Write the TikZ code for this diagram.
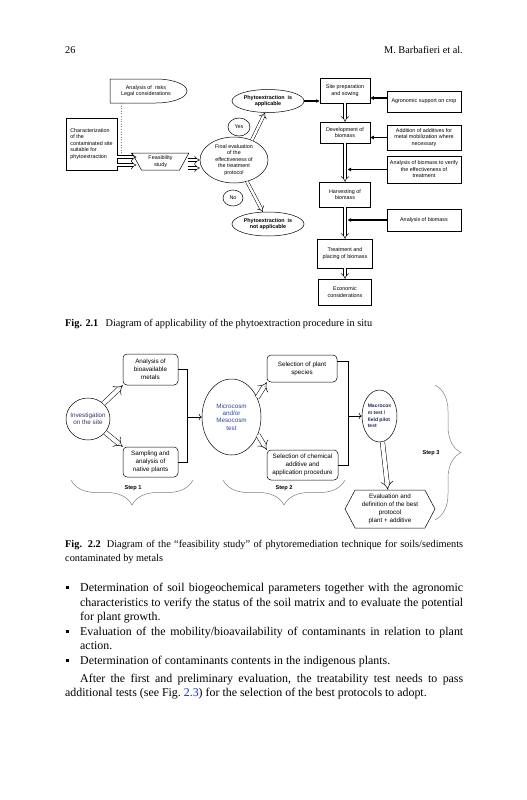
\documentclass[tikz,border=0pt]{standalone}
\usepackage{fontspec}
\setmainfont{Liberation Serif}
\setsansfont{Liberation Sans}
\usetikzlibrary{shapes, arrows.meta, decorations.pathreplacing}
\definecolor{invtext}{RGB}{62,44,110}
\definecolor{microtext}{RGB}{40,72,150}
\definecolor{macrotext}{RGB}{28,38,92}
\definecolor{figlink}{RGB}{20,40,230}

\begin{document}
\begin{tikzpicture}[x=1pt, y=-1pt]

\tikzstyle{box} = [rectangle, draw, line width=0.5pt, align=center, inner sep=0pt, font=\sffamily\fontsize{5.4}{6.5}\selectfont]
\tikzstyle{oval} = [ellipse, draw, line width=0.5pt, align=center, inner sep=-2pt, font=\sffamily\fontsize{5.4}{6.5}\selectfont]
\tikzstyle{boldoval} = [oval, font=\sffamily\bfseries\fontsize{5.4}{6.5}\selectfont]
\tikzstyle{rbox} = [rectangle, draw, line width=0.5pt, rounded corners=4pt, align=center, inner sep=0pt, font=\sffamily\fontsize{6.3}{7.8}\selectfont]
\tikzstyle{bigoval} = [ellipse, draw, line width=0.5pt, align=center, inner sep=-3pt, font=\sffamily\fontsize{6.3}{7.4}\selectfont]
\tikzstyle{hollow} = [double, line width=0.5pt, double distance=2.4pt, -{Implies}]
\tikzstyle{bighollow} = [double, line width=0.5pt, double distance=4pt, -{Implies}]
\tikzstyle{feed} = [line width=1.2pt, -{Latex[length=3.5pt, width=4pt]}]
\tikzstyle{link} = [line width=0.6pt, ->]
\tikzstyle{steplabel} = [font=\sffamily\bfseries\fontsize{5.6}{6.5}\selectfont]
\tikzstyle{stepbrace} = [decorate, gray, line width=0.5pt]

\useasboundingbox (0,0) rectangle (527,800);

\node (pageno) [anchor=base west, inner sep=0pt, font=\fontsize{10.3}{12}\selectfont] at (65,54) {26};
\node (runhead) [anchor=base east, inner sep=0pt, font=\fontsize{10.3}{12}\selectfont] at (463,54) {M. Barbafieri et al.};

\node (risks) [align=center, inner sep=0pt, font=\sffamily\fontsize{5.4}{6.5}\selectfont] at (146,91) {Analysis of\ \ risks\\Legal considerations};
\draw [line width=0.5pt] (110,79) -- (156,79) arc[start angle=-90, end angle=90, x radius=31, y radius=12] -- (110,103) -- cycle;

\node (char) [box, align=left, minimum width=51pt, minimum height=52pt] at (91.5,144) {Characterization\\of the\\contaminated site\\suitable for\\phytoextraction};
\node (feas) [box, trapezium, shape border rotate=180, trapezium left angle=63, trapezium right angle=63, trapezium stretches=true, minimum width=57pt, minimum height=17pt] at (160.5,161.5) {Feasibility\\study};
\node (final) [oval, minimum width=68pt, minimum height=46pt] at (234,160) {Final evaluation\\of the\\effectiveness of\\the treatment\\protocol};
\node (yes) [oval, minimum width=22pt, minimum height=18pt] at (239,127) {Yes};
\node (no) [oval, minimum width=20pt, minimum height=16pt] at (233,198) {No};
\node (applic) [boldoval, minimum width=72pt, minimum height=23pt] at (268,101) {Phytoextraction\ \ is\\applicable};
\node (notapp) [boldoval, minimum width=72pt, minimum height=24pt] at (268,224) {Phytoextraction\ \ is\\not applicable};

\node (site) [box, minimum width=50pt, minimum height=25pt] at (345,90.5) {Site preparation\\and sowing};
\node (dev) [box, minimum width=50pt, minimum height=21pt] at (345,132.5) {Development of\\biomass};
\node (harv) [box, minimum width=51pt, minimum height=25pt] at (345,194.5) {Harvesting of\\biomass};
\node (treat) [box, minimum width=55pt, minimum height=29pt] at (345,253.5) {Treatment and\\placing of biomass};
\node (econ) [box, minimum width=53pt, minimum height=26pt] at (345,292) {Economic\\considerations};
\node (agro) [box, minimum width=74pt, minimum height=21pt] at (424,101.5) {Agronomic support on crop};
\node (addit) [box, minimum width=74pt, minimum height=25pt] at (424,137.5) {Addition of additives for\\metal mobilization where\\necessary};
\node (verify) [box, minimum width=74pt, minimum height=27pt] at (424,169.5) {Analysis of biomass to verify\\the effectiveness of\\treatment};
\node (bioan) [box, minimum width=74pt, minimum height=22pt] at (424,220) {Analysis of biomass};

\coordinate (riskfoot) at (121,103);
\coordinate (charout1) at ([yshift=-13pt]char.east);
\coordinate (charout2) at ([yshift=-21pt]char.east);
\coordinate (feasout1) at ([xshift=3pt, yshift=1.5pt]feas.east);
\coordinate (feasout2) at ([xshift=3pt, yshift=-6.5pt]feas.east);
\coordinate (agroin) at ([yshift=3.5pt]agro.west);

\draw [dotted, gray, line width=0.6pt] (riskfoot) -- (riskfoot |- charout1);
\draw [hollow] (charout1) -- (charout1 -| feas.west);
\draw [hollow] (charout2) -- (charout2 -| feas.west);
\draw [hollow] (feasout1) -- (feasout1 -| final.west);
\draw [hollow] (feasout2) -- (feasout2 -| final.west);
\draw [hollow] (final.48) -- (applic.256);
\draw [hollow] (final.-59) -- (notapp.113);
\draw [feed] (applic.east) -- (applic.east -| site.west);
\draw [feed] (agroin) -- (agroin -| site.east);
\draw [feed] (addit.west) -- (addit.west -| dev.east);
\draw [feed, shorten >=2.5pt] (verify.west) -- (verify.west -| dev.south);
\draw [feed, shorten >=2.5pt] (bioan.west) -- (bioan.west -| harv.south);
\draw [hollow] (site) -- (dev);
\draw [hollow] (dev) -- (harv);
\draw [hollow] (harv) -- (treat);
\draw [hollow] (treat) -- (econ);

\node (cap1) [anchor=base west, inner sep=0pt, font=\fontsize{10.3}{12.5}\selectfont] at (65,326.5) {\textbf{Fig. 2.1}\hspace{0.7em}Diagram of applicability of the phytoextraction procedure in situ};

\node (inv) [bigoval, text=invtext, minimum width=44pt, minimum height=42pt] at (88,419) {Investigation\\on the site};
\node (metals) [rbox, minimum width=55pt, minimum height=31pt] at (150.5,369.5) {Analysis of\\bioavailable\\metals};
\node (sampling) [rbox, minimum width=55pt, minimum height=30pt] at (150.5,462) {Sampling and\\analysis of\\native plants};
\node (micro) [bigoval, text=microtext, minimum width=59pt, minimum height=76pt] at (231.5,417) {Microcosm\\and/or\\Mesocosm\\test};
\node (species) [rbox, minimum width=70pt, minimum height=27pt] at (302,368.5) {Selection of plant\\species};
\node (chem) [rbox, minimum width=71pt, minimum height=30pt] at (302.5,465) {Selection of chemical\\additive and\\application procedure};
\node (macro) [bigoval, text=macrotext, align=left, font=\sffamily\bfseries\fontsize{5}{6.6}\selectfont, minimum width=35pt, minimum height=52pt] at (379.5,416) {Macrocos\\m test /\\field pilot\\test};
\node (eval) [signal, signal to=west and east, signal pointer angle=124, draw, line width=0.5pt, align=center, inner sep=0pt, font=\sffamily\fontsize{6.3}{7.8}\selectfont, minimum width=90pt, minimum height=38pt] at (390,509) {Evaluation and\\definition of the best\\protocol\\plant + additive};

\coordinate (join1) at ([xshift=-14pt]micro.west);
\coordinate (join2) at ([xshift=-13pt]macro.west);
\coordinate (speciesout) at ([yshift=7pt]species.east);

\draw [bighollow] (inv.45) -- (metals.south west);
\draw [bighollow] (inv.-38) -- (sampling.north west);
\draw [bighollow] (micro.37) -- (species.south west);
\draw [bighollow] (micro.-34) -- (chem.north west);
\draw [bighollow] (macro) -- (eval);
\draw [line width=0.6pt] (metals.east) -| (join1) |- (sampling.east);
\draw [link] (join1) -- (micro.west);
\draw [line width=0.6pt] (speciesout) -| (join2) |- (chem.east);
\draw [link] (join2) -- (macro.west);

\draw [stepbrace, decoration={brace, mirror, amplitude=25pt}] (71,480) -- (193,480);
\draw [stepbrace, decoration={brace, mirror, amplitude=25pt}] (223,480) -- (345,480);
\draw [stepbrace, decoration={brace, amplitude=26pt}] (435,385) -- (435,520);
\node (step1) [steplabel] at (133,488) {Step 1};
\node (step2) [steplabel] at (284,488) {Step 2};
\node (step3) [steplabel] at (431,453) {Step 3};

\node (cap2) [anchor=north west, inner sep=0pt, text width=398pt, align=justify, font=\fontsize{10.3}{14.5}\selectfont] at (65,540) {\textbf{Fig. 2.2}\hspace{0.6em}Diagram of the ``feasibility study'' of phytoremediation technique for soils/sediments\linebreak contaminated by metals};

\node (body) [anchor=north west, inner sep=0pt, text width=398pt, align=justify, font=\fontsize{11.9}{14.6}\selectfont] at (65,583) {%
\parindent=0pt\leftskip=15pt
\noindent\llap{\rule[2.6pt]{3pt}{3pt}\hspace{11pt}}Determination of soil biogeochemical parameters together with the agronomic\linebreak characteristics to verify the status of the soil matrix and to evaluate the potential\linebreak for plant growth.\par
\noindent\llap{\rule[2.6pt]{3pt}{3pt}\hspace{11pt}}Evaluation of the mobility/bioavailability of contaminants in relation to plant\linebreak action.\par
\noindent\llap{\rule[2.6pt]{3pt}{3pt}\hspace{11pt}}Determination of contaminants contents in the indigenous plants.\par
\vspace{3pt}\leftskip=0pt\parindent=15pt
\indent After the first and preliminary evaluation, the treatability test needs to pass\linebreak additional tests (see Fig.~\textcolor{figlink}{2.3}) for the selection of the best protocols to adopt.\par};

\end{tikzpicture}
\end{document}
